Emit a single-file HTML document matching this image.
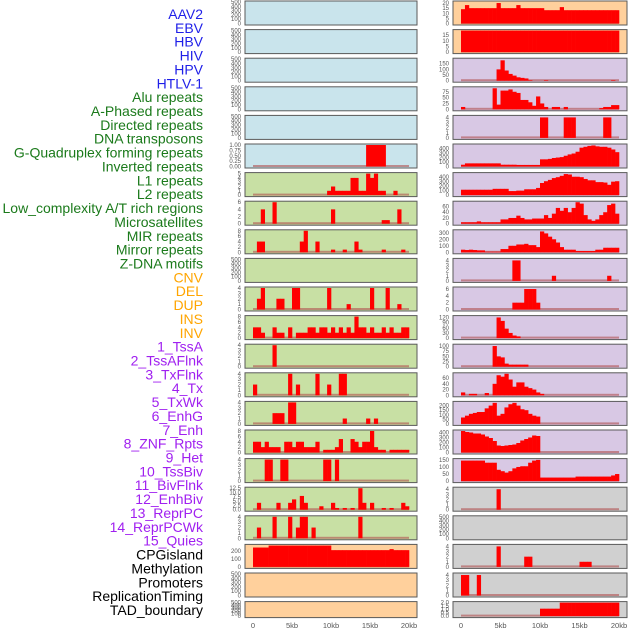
<!DOCTYPE html>
<html><head><meta charset="utf-8">
<style>
html,body{margin:0;padding:0;background:#fff;}
svg{display:block;font-family:"Liberation Sans",sans-serif;}
</style></head>
<body>
<svg id="chart" width="630" height="630" viewBox="0 0 630 630" xmlns="http://www.w3.org/2000/svg">
<g id="labels"></g>
<g id="panels"></g>
<g id="xaxes"></g>
</svg>
<script>
const trackLabels = ["AAV2","EBV","HBV","HIV","HPV","HTLV-1","Alu repeats","A-Phased repeats","Directed repeats","DNA transposons","G-Quadruplex forming repeats","Inverted repeats","L1 repeats","L2 repeats","Low_complexity A/T rich regions","Microsatellites","MIR repeats","Mirror repeats","Z-DNA motifs","CNV","DEL","DUP","INS","INV","1_TssA","2_TssAFlnk","3_TxFlnk","4_Tx","5_TxWk","6_EnhG","7_Enh","8_ZNF_Rpts","9_Het","10_TssBiv","11_BivFlnk","12_EnhBiv","13_ReprPC","14_ReprPCWk","15_Quies","CPGisland","Methylation","Promoters","ReplicationTiming","TAD_boundary"];
const labelGroups = ["virus","virus","virus","virus","virus","virus","repeat","repeat","repeat","repeat","repeat","repeat","repeat","repeat","repeat","repeat","repeat","repeat","repeat","sv","sv","sv","sv","sv","hmm","hmm","hmm","hmm","hmm","hmm","hmm","hmm","hmm","hmm","hmm","hmm","hmm","hmm","hmm","other","other","other","other","other"];
const xTickKb = [0,5,10,15,20];
const xTickLabels = ["0","5kb","10kb","15kb","20kb"];

// Left column panels (40 bins of 0.5kb each)
const E = null;
const leftBg = ["blue","blue","blue","blue","blue","blue","green","green","green","green","green","green","green","green","green","green","green","green","green","peach","peach","peach"];
const leftYmax = [500,500,500,500,500,1,5,6,8,500,4,8,4,4,4,8,4,12.5,4,272,500,500];
const leftTicks = [
 [0,100,200,300,400,500],[0,100,200,300,400,500],[0,100,200,300,400,500],[0,100,200,300,400,500],[0,100,200,300,400,500],
 [0,0.25,0.5,0.75,1],[0,1,2,3,4,5],[0,2,4,6],[0,2,4,6,8],[0,100,200,300,400,500],[0,1,2,3,4],[0,2,4,6,8],[0,1,2,3,4],[0,1,2,3,4],[0,1,2,3,4],[0,2,4,6,8],[0,1,2,3,4],[0,2.5,5,7.5,10,12.5],[0,1,2,3,4],[0,100,200],[0,100,200,300,400,500],[0,100,200,300,400,500]];
const leftTickFmt = [0,0,0,0,0,2,0,0,0,0,0,0,0,0,0,0,0,1,0,0,0,0];
const leftVals = [
 E,E,E,E,E,
 [0,0,0,0,0,0,0,0,0,0,0,0,0,0,0,0,0,0,0,0,0,0,0,0,0,0,0,0,0,1,1,1,1,1,0,0,0,0,0,0],
 [0,0,0,0,0,0,0,0,0,0,0,0,0,0,0,0,0,0,0,1,2,1,1,1,1,4,4,1,1,5,4,5,1,1,0,0,1,0,0,0],
 [0,0,4,0,0,6,0,0,0,0,0,0,0,0,0,0,0,0,0,0,4,0,0,0,0,0,0,0,0,0,0,0,0,1,1,0,0,4,0,0],
 [0,4,4,0,0,0,0,0,0,0,0,0,4,8,0,0,4,0,0,0,1,0,0,1,0,0,4,1,0,0,0,0,0,1,0,0,0,0,1,0],
 E,
 [0,2,4,0,0,0,2,2,0,0,4,4,0,0,0,0,0,0,0,4,0,0,0,0,1,0,0,0,0,0,4,0,0,0,4,0,0,1,0,0],
 [4,4,2,0,0,4,2,2,0,4,0,2,2,2,4,4,2,4,4,2,4,2,4,2,4,2,8,4,4,2,4,2,2,4,2,4,2,2,4,4],
 [0,0,0,0,0,4,0,0,0,0,0,0,0,0,0,0,0,0,0,0,0,0,0,0,0,0,0,0,0,0,0,0,0,0,0,0,0,0,0,0],
 [2,0,0,0,0,0,0,0,0,4,0,2,0,0,0,0,4,0,0,2,0,0,4,4,0,0,0,0,0,0,0,0,0,0,0,0,0,0,0,0],
 [0,0,0,0,0,2,2,2,0,4,4,0,0,0,0,0,0,0,0,0,0,0,0,1,0,0,0,0,0,1,0,1,0,0,0,0,0,0,0,0],
 [4,4,2,4,2,2,2,0,4,4,2,4,4,2,2,2,4,0,1,1,1,2,5,0,0,5,4,2,4,4,8,2,1,1,0,1,1,1,1,1],
 [0,0,0,4,4,0,0,4,4,0,0,0,0,0,0,0,0,0,4,4,0,4,0,0,0,0,0,0,0,0,0,0,0,0,0,0,0,0,0,0],
 [0,4,0,0,0,0,4,0,0,4,6,0,8,4,0,0,0,2,0,0,4,1,0,1,0,1,0,12.5,4,0,4,0,0,1,0,1,0,0,4,2],
 [0,2,0,0,0,4,0,0,0,4,0,2,4,4,0,2,0,0,0,0,0,0,0,0,0,0,0,4,0,0,0,0,0,0,0,0,0,0,0,0],
 [245,245,245,245,270,270,270,270,270,270,270,270,270,270,270,270,270,270,270,270,212,212,212,212,212,212,212,212,212,212,212,212,212,212,212,225,212,212,212,212],
 E,E];

const rightBg = ["peach","peach","lav","lav","lav","lav","lav","lav","lav","lav","lav","lav","lav","lav","lav","lav","lav","gray","gray","gray","gray","gray"];
const rightYmax = [21,19,190,92,4.2,480,480,75,330,4.2,6.3,125,104,75,235,430,152,4.2,500,4.2,4.2,2];
const rightTicks = [
 [0,5,10,15,20],[0,5,10,15],[0,50,100,150],[0,25,50,75],[0,1,2,3,4],[0,100,200,300,400],[0,100,200,300,400],[0,20,40,60],[0,100,200,300],[0,1,2,3,4],[0,2,4,6],[0,30,60,90,120],[0,25,50,75,100],[0,20,40,60],[0,50,100,150,200],[0,100,200,300,400],[0,50,100,150],[0,1,2,3,4],[0,100,200,300,400,500],[0,1,2,3,4],[0,1,2,3,4],[0,0.5,1,1.5,2]];
const rightTickFmt = [0,0,0,0,0,0,0,0,0,0,0,0,0,0,0,0,0,0,0,0,0,1];
const rightVals = [
 [14,18,15,15,15,15,15,15,15,20,15,15,15,15,18,15,15,15,15,15,15,13,13,13,13,16,13,13,13,13,13,13,13,13,13,13,13,13,13,13],
 [19,19,19,19,19,19,19,19,19,19,19,19,19,19,19,19,19,19,19,19,19,19,19,19,19,19,19,19,19,19,19,19,19,19,19,19,19,19,19,19],
 [0,0,0,0,0,0,0,0,0,100,180,90,60,45,30,25,20,5,0,0,0,5,0,0,0,0,0,0,0,0,0,0,0,0,0,0,0,0,5,0],
 [10,0,0,0,0,0,0,0,90,20,80,80,85,75,70,40,40,30,15,55,25,10,0,10,10,0,10,0,0,0,0,0,0,0,0,5,10,10,18,18],
 [0,0,0,0,0,0,0,0,0,0,0,0,0,0,0,0,0,0,0,0,4,4,0,0,0,0,4,4,4,0,0,0,0,0,0,0,4,4,0,0],
 [40,70,70,70,70,70,70,70,70,70,40,40,40,40,35,35,35,35,35,35,160,160,170,190,200,210,240,270,290,330,420,440,460,470,450,440,440,420,380,320],
 [120,120,120,120,120,120,120,120,140,140,140,140,90,90,100,100,130,130,130,160,270,310,340,380,400,430,470,460,410,410,400,360,330,330,290,290,280,230,300,310],
 [5,5,5,5,8,5,5,5,5,5,15,15,20,20,28,20,15,15,18,18,18,30,20,35,55,45,55,40,55,75,70,30,15,10,15,30,40,65,70,35],
 [40,35,40,35,30,30,10,10,10,10,50,50,100,100,120,120,130,110,110,80,320,290,240,200,150,80,40,40,40,20,20,20,20,20,40,40,70,70,70,70],
 [0,0,0,0,0,0,0,0,0,0,0,0,0,4,4,0,0,0,0,0,0,0,0,1,0,0,0,0,0,0,0,0,0,0,0,0,0,1,0,0],
 [0,0,0,0,0,0,0,0,0,0,0,0,0,2,2,2,6,6,6,2,0,0,0,0,0,0,0,0,0,0,0,0,0,0,0,0,0,0,0,0],
 [0,0,0,0,0,0,0,0,0,120,100,55,30,15,10,0,0,0,0,0,0,0,0,0,0,0,0,0,0,0,0,0,0,0,0,0,0,0,0,0],
 [0,0,0,0,0,0,0,0,100,50,45,15,10,10,10,10,10,0,0,0,0,0,0,0,0,0,0,0,0,0,0,0,0,0,0,0,0,0,0,0],
 [10,0,5,5,0,0,8,0,40,70,65,75,55,30,45,45,30,25,20,10,5,0,0,0,0,0,0,0,0,0,0,0,0,0,0,0,0,0,0,0],
 [70,90,110,120,130,130,170,200,230,90,110,180,215,230,200,160,150,110,90,80,0,0,0,0,0,0,0,0,0,0,0,0,0,0,0,0,0,0,0,0],
 [430,410,400,380,380,360,320,290,230,140,130,140,150,160,190,240,270,300,340,330,0,0,0,0,0,0,0,0,0,0,0,0,0,0,0,0,0,0,0,0],
 [145,145,145,145,145,145,130,130,130,80,70,60,70,90,100,105,105,130,145,150,25,25,25,25,25,25,25,25,25,32,32,32,32,32,32,32,32,32,40,50],
 [0,0,0,0,0,0,0,0,0,4,0,0,0,0,0,0,0,0,0,0,0,0,0,0,0,0,0,0,0,0,0,0,0,0,0,0,0,0,0,0],
 E,
 [0,0,0,0,0,0,0,0,0,4,0,0,0,0,0,0,2,2,0,0,0,0,0,0,0,0,0,0,0,0,1,1,1,0,0,0,0,0,0,0],
 [4,4,0,0,4,0,0,0,0,0,0,0,0,0,0,0,0,0,0,0,0,0,0,0,0,0,0,0,0,0,0,0,0,0,0,0,0,0,0,0],
 [0,0,0,0,0,0,0,0,0,0,0,0,0,0,0,0,0,0,0,0,1.1,1.1,1.1,1.1,1.1,2,2,2,2,2,2,2,2,2,2,2,2,2,2,2]];

const NS = "http://www.w3.org/2000/svg";
const BIN_KB = 0.5;
const groupColor = {virus:"#1f1fe8",repeat:"#1b7a1b",sv:"#ffa500",hmm:"#a020f0",other:"#000000"};
const bgColor = {blue:"#c9e4ec",green:"#c8e0a4",peach:"#ffd09c",lav:"#d8c8e4",gray:"#d0d0d0"};
const cols = [
  {panelX:245, panelW:172, x0:253, x20:409, tickX:241, bg:leftBg, ymax:leftYmax, ticks:leftTicks, fmt:leftTickFmt, vals:leftVals, side:"left"},
  {panelX:453, panelW:174, x0:461, x20:619, tickX:449, bg:rightBg, ymax:rightYmax, ticks:rightTicks, fmt:rightTickFmt, vals:rightVals, side:"right"}
];
function mk(tag, attrs, parent){const e=document.createElementNS(NS,tag);for(const k in attrs)e.setAttribute(k,attrs[k]);parent.appendChild(e);return e;}

// labels
const gl = document.getElementById('labels');
trackLabels.forEach((t,i)=>{
  const el = mk('text',{x:203,y:19+i*13.86,'text-anchor':'end','font-size':14,fill:groupColor[labelGroups[i]]},gl);
  
  
  el.textContent = t;
});

const gp = document.getElementById('panels');
const gx = document.getElementById('xaxes');
cols.forEach(c=>{
  const xScale = kb => c.x0 + (c.x20 - c.x0) * kb / 20;
  for(let i=0;i<22;i++){
    const top = 1 + i*28.6;
    const h = i===21 ? 16 : 24;
    const bottom = top + h;
    const yBase = bottom - 1.5, yTop = top + 1;
    const yScale = v => yBase - (yBase - yTop) * v / c.ymax[i];
    const g = mk('g',{},gp);
    
    
    const r = mk('rect',{x:c.panelX,y:top,width:c.panelW,height:h,fill:bgColor[c.bg[i]],stroke:'#5a5a5a','stroke-width':1},g);
    
    
    // ticks
    c.ticks[i].forEach(tv=>{
      const tt = mk('text',{x:c.tickX,y:yScale(tv)+2,'text-anchor':'end','font-size':6,fill:'#555'},g);
      
      
      tt.textContent = c.fmt[i] ? tv.toFixed(c.fmt[i]) : String(tv);
    });
    const vals = c.vals[i];
    if(vals){
      const bl = mk('rect',{x:xScale(0),y:yBase-1.5,width:xScale(20)-xScale(0),height:2,fill:'#b05050',opacity:0.6},g);
      
      
      vals.forEach((v,b)=>{
        if(!v) return;
        const xa = xScale(b*BIN_KB), xb = xScale((b+1)*BIN_KB);
        const y = yScale(v);
        const bar = mk('rect',{x:xa,y:y,width:xb-xa+0.3,height:yBase-y,fill:'#ff0000'},g);
        
        
      });
    }
  }
  xTickKb.forEach((kb,j)=>{
    const t = mk('text',{x:xScale(kb),y:628,'text-anchor':'middle','font-size':7.5,fill:'#555'},gx);
    
    
    t.textContent = xTickLabels[j];
  });
});
</script>
</body></html>
